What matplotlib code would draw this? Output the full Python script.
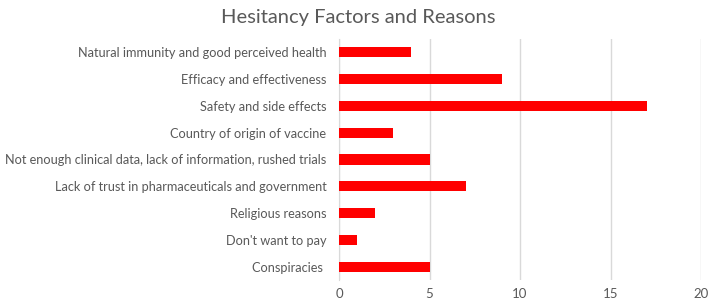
import matplotlib
matplotlib.use("Agg")
from matplotlib import pyplot as plt

# categories top to bottom
reasons = [
    "Natural immunity and good perceived health",
    "Efficacy and effectiveness",
    "Safety and side effects",
    "Country of origin of vaccine",
    "Not enough clinical data, lack of information, rushed trials",
    "Lack of trust in pharmaceuticals and government",
    "Religious reasons",
    "Don't want to pay",
    "Conspiracies ",
]
counts = [4, 9, 17, 3, 5, 7, 2, 1, 5]
xticks = [0, 5, 10, 15, 20]

plt.rcParams['font.family'] = ['Lato', 'DejaVu Sans']
txt = '#595959'

fig = plt.figure(figsize=(7.08, 3.02), dpi=100)
ax = fig.add_axes([339/708, 1-280/302, (701-339)/708, (280-39)/302])

ypos = list(range(len(reasons)))[::-1]
ax.barh(ypos, counts, height=0.38, color='#FF0000', zorder=3)

ax.set_xlim(0, 20)
ax.set_ylim(-0.5, len(reasons)-0.5)
ax.set_xticks(xticks)
ax.set_xticklabels([str(t) for t in xticks], color=txt, fontsize=9.5)
ax.set_yticks(ypos)
ax.set_yticklabels(reasons, color=txt, fontsize=9.2)
ax.tick_params(axis='y', length=0, pad=9)
ax.tick_params(axis='x', length=0, pad=6)
ax.grid(axis='x', color='#D9D9D9', linewidth=1, zorder=0)
for s in ['top', 'right', 'bottom']:
    ax.spines[s].set_visible(False)
ax.spines['left'].set_color('#D9D9D9')
ax.spines['left'].set_zorder(1)

fig.text(358/708, 1-17/302, "Hesitancy Factors and Reasons", ha='center', va='center',
         color=txt, fontsize=14.5)

fig.savefig("out.png", dpi=100)
